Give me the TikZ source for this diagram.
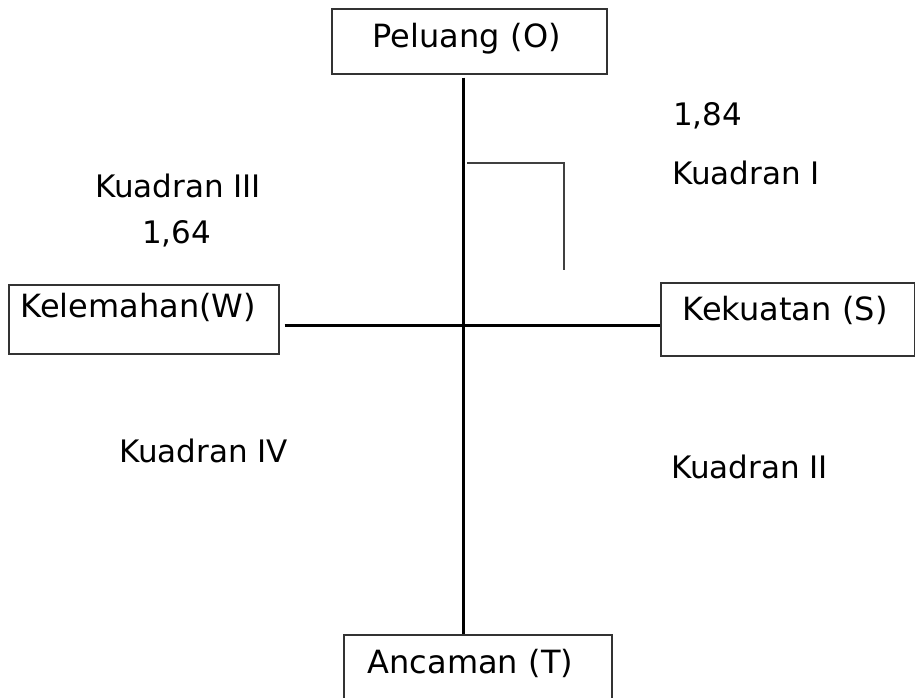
\documentclass[tikz,border=0pt]{standalone}
\usepackage{fontspec}
\setmainfont{DejaVu Sans}
\begin{document}
\begin{tikzpicture}[x=1pt,y=-1pt,
  boxnode/.style={draw=black!80, line width=1.5pt, rectangle, anchor=north west,
    inner ysep=0pt, align=left, font=\fontsize{32}{38}\selectfont},
  lbl/.style={anchor=base west, inner sep=0pt, font=\fontsize{31}{37}\selectfont},
  axis/.style={line width=3pt, black},
  marker/.style={line width=1.8pt, black!75}]
\useasboundingbox (0,0) rectangle (915,697);
\clip (0,0) rectangle (915,697);
% boxes
\node[boxnode, inner xsep=41pt, text width=193pt, text height=39pt, text depth=26pt] (O) at (331,8) {Peluang (O)};
\node[boxnode, inner xsep=22pt, text width=210pt, text height=38pt, text depth=35pt] (S) at (660,282) {Kekuatan (S)};
\node[boxnode, inner xsep=12pt, text width=246pt, text height=33pt, text depth=36pt] (W) at (8,284) {Kelemahan(W)};
\node[boxnode, inner xsep=24pt, text width=220pt, text height=39pt, text depth=31pt] (T) at (343,634) {Ancaman (T)};
% axes
\coordinate (c) at (463,325);
\draw[axis] ([yshift=-3pt]O.south -| c) -- (T.north -| c);
\draw[axis] ([xshift=5pt]W.east |- c) -- (S.west |- c);
% marker
\coordinate (m1) at (467,163);
\coordinate (m2) at (564,163);
\coordinate (m3) at (564,270);
\draw[marker] (m1) -- (m2) -- (m3);
% labels
\node[lbl] (n184) at (673,125) {1,84};
\node[lbl] (q1) at (672,184) {Kuadran I};
\node[lbl] (q3) at (95,197) {Kuadran III};
\node[lbl] (n164) at (142,243) {1,64};
\node[lbl] (q4) at (119,462) {Kuadran IV};
\node[lbl] (q2) at (671,478) {Kuadran II};
\end{tikzpicture}
\end{document}
